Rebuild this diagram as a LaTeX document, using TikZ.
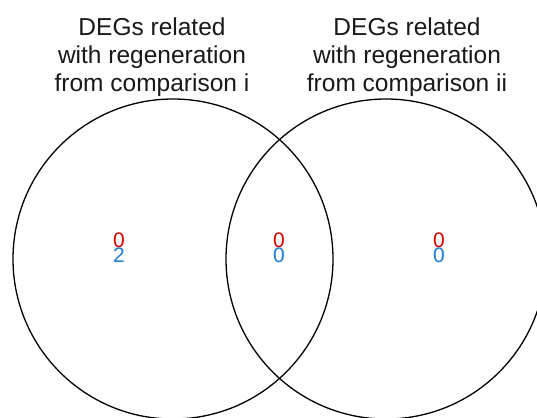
\documentclass[tikz,border=0pt]{standalone}
\usepackage{fontspec}
\setmainfont{Liberation Sans}
\definecolor{numred}{RGB}{214,0,0}
\definecolor{numblue}{RGB}{30,125,215}
\tikzset{
  setcircle/.style={draw=black, line width=1.3pt},
  settitle/.style={align=center, inner sep=0pt, font=\fontsize{24.5}{28.3}\selectfont, text=black!90},
  redn/.style={anchor=base, inner sep=0pt, text=numred, font=\fontsize{21}{21}\selectfont},
  bluen/.style={anchor=base, inner sep=0pt, text=numblue, font=\fontsize{21}{21}\selectfont}
}
\begin{document}
\begin{tikzpicture}[x=1pt,y=-1pt]
\useasboundingbox (0,0) rectangle (537,417);
\clip (0,0) rectangle (537,417);
\fill[white] (0,0) rectangle (537,417);
\node[settitle] (titleA) at (152,57) {DEGs related\\with regeneration\\from comparison i};
\node[settitle] (titleB) at (407,57) {DEGs related\\with regeneration\\from comparison ii};
\draw[setcircle] (173,259) circle[radius=160];
\draw[setcircle] (386,259) circle[radius=160];
\node[redn] (aR) at (119,247) {0};
\node[bluen] (aB) at (119,262.5) {2};
\node[redn] (bR) at (279,247) {0};
\node[bluen] (bB) at (279,262.5) {0};
\node[redn] (cR) at (439,247) {0};
\node[bluen] (cB) at (439,262.5) {0};
\end{tikzpicture}
\end{document}
